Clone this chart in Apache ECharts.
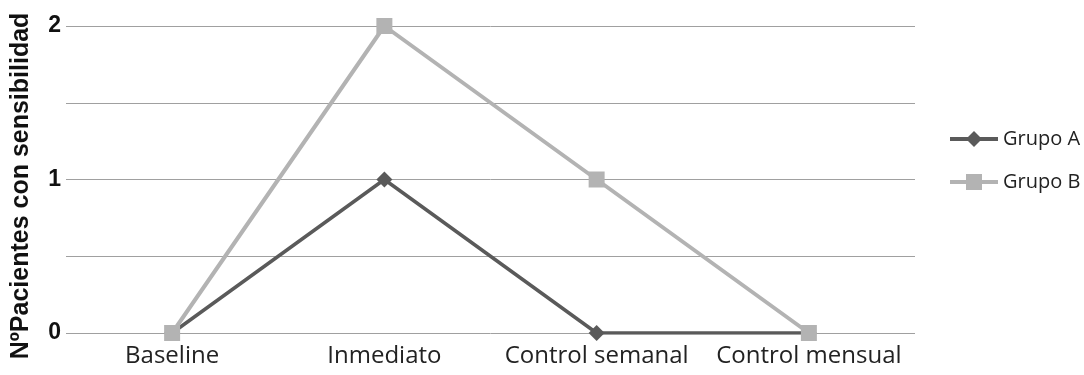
<!DOCTYPE html>
<html><head><meta charset="utf-8">
<script src="https://cdn.jsdelivr.net/npm/echarts@6/dist/echarts.min.js"></script>
<style>html,body{margin:0;padding:0;background:#fff}#c{width:1084px;height:375px}</style>
</head><body><div id="c"></div>
<script>
const categories = ["Baseline", "Inmediato", "Control semanal", "Control mensual"];
const grupoA = [0, 1, 0, 0];
const grupoB = [0, 2, 1, 0];
const yTickLabels = {0: "0", 1: "1", 2: "2"};
const yName = "NºPacientes con sensibilidad";

const chart = echarts.init(document.getElementById('c'), null, {renderer: 'canvas'});
chart.setOption({
  animation: false,
  grid: {left: 66, right: 169, top: 26, bottom: 42, outerBoundsMode: 'none', containLabel: false},
  legend: {
    orient: 'vertical', left: 943, top: 124, itemGap: 23, itemWidth: 48, itemHeight: 20,
    lineStyle: {width: 4},
    textStyle: {fontFamily: 'Open Sans', fontSize: 20, lineHeight: 20, color: '#222'},
    data: ['Grupo A', 'Grupo B']
  },
  xAxis: {
    type: 'category', data: categories, boundaryGap: true,
    axisLine: {show: false}, axisTick: {show: false},
    axisLabel: {fontFamily: 'Open Sans', fontSize: 24, color: '#222', margin: 11, interval: 0, hideOverlap: false}
  },
  yAxis: {
    type: 'value', min: 0, max: 2, interval: 0.5,
    name: yName, nameLocation: 'middle', nameGap: 32,
    nameTextStyle: {fontFamily: 'Liberation Sans', fontWeight: 'bold', fontSize: 25, color: '#111', padding: [0, 13, 0, 0]},
    axisLine: {show: false}, axisTick: {show: false},
    axisLabel: {fontFamily: 'Liberation Sans', fontWeight: 'bold', fontSize: 23, color: '#111', margin: 5,
      formatter: v => yTickLabels[v] !== undefined ? yTickLabels[v] : ''},
    splitLine: {lineStyle: {color: '#a0a0a0', width: 1}}
  },
  series: [
    {name: 'Grupo A', type: 'line', data: grupoA, symbol: 'diamond', symbolSize: 16,
      lineStyle: {color: '#5a5a5a', width: 3.5}, itemStyle: {color: '#5a5a5a'}, z: 2},
    {name: 'Grupo B', type: 'line', data: grupoB, symbol: 'rect', symbolSize: 16,
      lineStyle: {color: '#b3b3b3', width: 4}, itemStyle: {color: '#b3b3b3'}, z: 3}
  ]
});
</script></body></html>
